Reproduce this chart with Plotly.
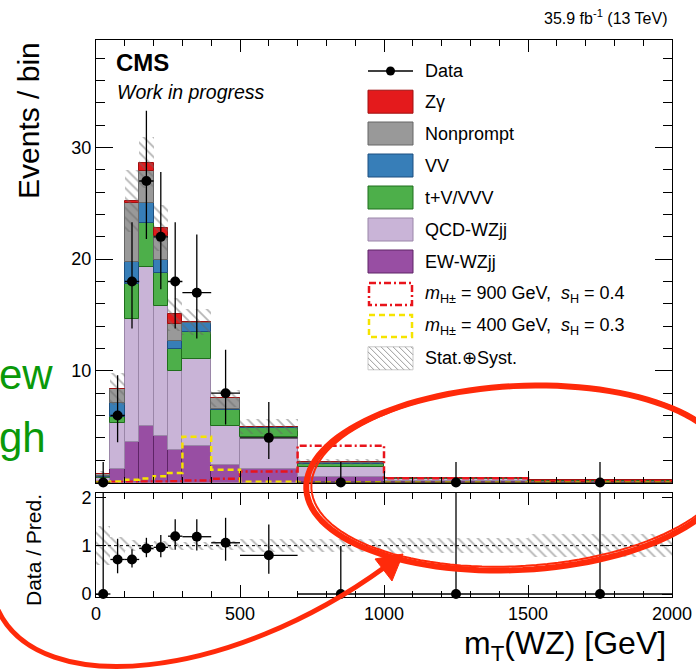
import plotly.graph_objects as go
import numpy as np

# ---------------- data ----------------
bin_edges = [0, 50, 100, 150, 200, 250, 300, 400, 500, 700, 1000, 1500, 2000]
data_counts = [0, 6, 18, 27, 22, 18, 17, 8, 4, 0, 0, 0]
data_err_lo = [0, 2.4, 4.2, 5.2, 4.7, 4.2, 4.1, 2.8, 1.9, 0, 0, 0]
data_err_hi = [1.84, 3.6, 5.3, 6.3, 5.8, 5.3, 5.2, 3.9, 3.2, 1.84, 1.84, 1.84]

ew_wzjj = [0.05, 1.2, 3.65, 5.05, 4.15, 2.9, 3.3, 1.55, 1.2, 0.5, 0.12, 0.06]
qcd_wzjj = [0.35, 4.1, 11.0, 14.25, 11.65, 7.05, 7.75, 3.5, 2.85, 0.9, 0.22, 0.1]
tv_vvv = [0.1, 0.6, 3.15, 3.9, 3.0, 2.0, 2.45, 1.4, 0.82, 0.3, 0.05, 0.02]
vv = [0.1, 1.2, 1.95, 1.8, 1.1, 0.7, 0.75, 0.1, 0.1, 0.05, 0.01, 0.0]
nonprompt = [0.15, 1.25, 5.3, 2.9, 2.2, 1.55, 0.1, 1.0, 0.03, 0.1, 0.0, 0.0]
zgamma = [0.0, 0.05, 0.15, 0.75, 0.7, 0.85, 0.0, 0.0, 0.0, 0.0, 0.0, 0.0]

sig_900 = [0.05, 0.05, 0.06, 0.08, 0.1, 0.12, 0.18, 0.33, 0.98, 3.3, 0.39, 0.12]
sig_400 = [0.03, 0.1, 0.25, 0.35, 0.55, 0.86, 4.1, 1.15, 0.07, 0.02, 0.01, 0.005]

unc_rel = [0.41, 0.17, 0.11, 0.08, 0.09, 0.10, 0.08, 0.10, 0.14, 0.14, 0.16, 0.24]

x_tick_vals = [0, 500, 1000, 1500, 2000]
main_y_ticks = [10, 20, 30]
ratio_y_ticks = [0, 1, 2]

bkg_names = ["EW-WZjj", "QCD-WZjj", "t+V/VVV", "VV", "Nonprompt", "Z\u03b3"]
bkg_values = [ew_wzjj, qcd_wzjj, tv_vvv, vv, nonprompt, zgamma]
bkg_fill = ["#984ea3", "#c9b4d7", "#4daf4a", "#377eb8", "#999999", "#e41a1c"]
bkg_line = ["#5e2466", "#9a86a8", "#1f6e1c", "#1c4f80", "#666666", "#a01010"]

# ---------------- derived ----------------
edges = np.array(bin_edges, float)
centers = 0.5 * (edges[1:] + edges[:-1])
widths = edges[1:] - edges[:-1]
total = np.sum(np.array(bkg_values), axis=0)
unc = np.array(unc_rel)
data = np.array(data_counts, float)
ratio = data / total
r_hi = np.array(data_err_hi) / total
r_lo = np.array(data_err_lo) / total

W, H = 696, 670
ML, MR, MT, MB = 96, 24, 40, 73
PW, PH = W - ML - MR, H - MT - MB


def px(x):
    return (x - ML) / PW


def py(y):
    return (H - MB - y) / PH


FONT = "Liberation Sans, Arial, Helvetica, sans-serif"

fig = go.Figure()

# stacked backgrounds
base = np.zeros(len(centers))
for name, vals, fc, lc in zip(bkg_names, bkg_values, bkg_fill, bkg_line):
    v = np.array(vals)
    fig.add_trace(go.Bar(x=centers, y=v, base=base.copy(), width=widths, name=name,
                         marker=dict(color=fc, line=dict(color=lc, width=1)),
                         xaxis="x", yaxis="y", showlegend=False))
    base = base + v

# uncertainty band (main)
hatch = dict(shape="\\", fgcolor="#686868", bgcolor="rgba(0,0,0,0)", size=7,
             solidity=0.25, fillmode="overlay")
fig.add_trace(go.Bar(x=centers, y=2 * unc * total, base=total * (1 - unc), width=widths,
                     marker=dict(color="rgba(0,0,0,0)", line=dict(width=0), pattern=hatch),
                     xaxis="x", yaxis="y", showlegend=False, name="Stat.+Syst."))

# signals
fig.add_trace(go.Scatter(x=edges, y=list(sig_900) + [sig_900[-1]], mode="lines",
                         line=dict(color="#e8141c", width=2.5, dash="7px,3px,2px,3px", shape="hv"),
                         xaxis="x", yaxis="y", showlegend=False))
fig.add_trace(go.Scatter(x=edges, y=list(sig_400) + [sig_400[-1]], mode="lines",
                         line=dict(color="#f5e400", width=2.5, dash="6px,4px", shape="hv"),
                         xaxis="x", yaxis="y", showlegend=False))

# data (error bars clipped, markers not)
fig.add_trace(go.Scatter(x=centers, y=data, mode="markers", marker=dict(size=1, color="rgba(0,0,0,0)"),
                         error_y=dict(type="data", symmetric=False, array=data_err_hi,
                                      arrayminus=data_err_lo, width=0, thickness=1.3, color="black"),
                         error_x=dict(type="data", array=widths / 2, width=0, thickness=1.3, color="black"),
                         xaxis="x", yaxis="y", showlegend=False))
fig.add_trace(go.Scatter(x=centers, y=data, mode="markers", marker=dict(size=10, color="black"),
                         cliponaxis=False, xaxis="x", yaxis="y", showlegend=False))

# ratio panel
fig.add_trace(go.Bar(x=centers, y=2 * unc, base=1 - unc, width=widths,
                     marker=dict(color="rgba(0,0,0,0)", line=dict(width=0), pattern=hatch),
                     xaxis="x2", yaxis="y2", showlegend=False))
fig.add_trace(go.Scatter(x=centers, y=ratio, mode="markers", marker=dict(size=1, color="rgba(0,0,0,0)"),
                         error_y=dict(type="data", symmetric=False, array=r_hi, arrayminus=r_lo,
                                      width=0, thickness=1.3, color="black"),
                         error_x=dict(type="data", array=widths / 2, width=0, thickness=1.3, color="black"),
                         xaxis="x2", yaxis="y2", showlegend=False))
fig.add_trace(go.Scatter(x=centers, y=ratio, mode="markers", marker=dict(size=10, color="black"),
                         cliponaxis=False, xaxis="x2", yaxis="y2", showlegend=False))

axis_common = dict(showline=True, linecolor="black", linewidth=1, mirror="ticks", ticks="inside",
                   tickcolor="black", showgrid=False, zeroline=False, automargin=False,
                   tickfont=dict(family=FONT, size=18, color="black"))

main_bottom = py(482.5)
ratio_top = py(493)

fig.update_layout(
    width=W, height=H, margin=dict(l=ML, r=MR, t=MT, b=MB, autoexpand=False),
    paper_bgcolor="white", plot_bgcolor="white", barmode="overlay", bargap=0,
    font=dict(family=FONT, color="black"),
    xaxis=dict(domain=[0, 1], anchor="y", range=[0, 2000], tickvals=x_tick_vals, showticklabels=False,
               ticklen=12, minor=dict(dtick=100, tick0=0, ticklen=6, ticks="inside", tickcolor="black"),
               matches="x2", **axis_common),
    yaxis=dict(domain=[main_bottom, 1], anchor="x", range=[0, 39.63], tickvals=main_y_ticks,
               ticklen=17, minor=dict(dtick=2, tick0=0, ticklen=9, ticks="inside", tickcolor="black"),
               **axis_common),
    xaxis2=dict(domain=[0, 1], anchor="y2", range=[0, 2000], tickvals=x_tick_vals,
                ticklen=12, minor=dict(dtick=100, tick0=0, ticklen=6, ticks="inside", tickcolor="black"),
                **axis_common),
    yaxis2=dict(domain=[0, ratio_top], anchor="x2", range=[-0.062, 2.089], tickvals=ratio_y_ticks,
                ticklen=10, **axis_common),
)

shapes = []
annos = []

# dotted line at ratio 1
shapes.append(dict(type="line", xref="x2", yref="y2", x0=0, x1=2000, y0=1, y1=1,
                   line=dict(color="black", width=1, dash="dot"), layer="above"))


def text(x, y, s, size, xanchor="left", yanchor="middle", color="black", angle=0, family=FONT):
    annos.append(dict(x=px(x), y=py(y), xref="paper", yref="paper", text=s, showarrow=False,
                      xanchor=xanchor, yanchor=yanchor, textangle=angle,
                      font=dict(family=family, size=size, color=color)))


# header texts
text(670, 17, "35.9 fb<sup>-1</sup> (13 TeV)", 16, xanchor="right")
text(114, 63, "<b>CMS</b>", 24)
text(115, 92, "<i>Work in progress</i>", 19.5)
text(29, 121, "Events / bin", 30, xanchor="center", angle=-90)
text(33, 550, "Data / Pred.", 21, xanchor="center", angle=-90)
text(668, 645, "m<sub>T</sub>(WZ) [GeV]", 32, xanchor="right")

# legend
bx0, bx1 = 368, 413
rows = [71, 101.7, 133.5, 165.5, 197.5, 229.5, 261.5, 294, 326, 358.3]
labels = ["Data", "Z\u03b3", "Nonprompt", "VV", "t+V/VVV", "QCD-WZjj", "EW-WZjj",
          "<i>m</i><sub>H\u00b1</sub> = 900 GeV,  <i>s</i><sub>H</sub> = 0.4",
          "<i>m</i><sub>H\u00b1</sub> = 400 GeV,  <i>s</i><sub>H</sub> = 0.3",
          "Stat.\u2295Syst."]
for r, lab in zip(rows, labels):
    text(423, r, lab, 18)

# data legend symbol
shapes.append(dict(type="line", xref="paper", yref="paper", x0=px(bx0), x1=px(bx1), y0=py(rows[0]), y1=py(rows[0]),
                   line=dict(color="black", width=1.3)))
shapes.append(dict(type="circle", xref="paper", yref="paper", x0=px(390.5 - 4.5), x1=px(390.5 + 4.5),
                   y0=py(rows[0] - 4.5), y1=py(rows[0] + 4.5), fillcolor="black", line=dict(width=0)))
leg_order = [5, 4, 3, 2, 1, 0]
for r, k in zip(rows[1:7], leg_order):
    shapes.append(dict(type="rect", xref="paper", yref="paper", x0=px(bx0), x1=px(bx1),
                       y0=py(r - 11.5), y1=py(r + 11.5), fillcolor=bkg_fill[k],
                       line=dict(color=bkg_line[k], width=1)))
shapes.append(dict(type="rect", xref="paper", yref="paper", x0=px(bx0 + 1), x1=px(bx1 - 1),
                   y0=py(rows[7] - 11), y1=py(rows[7] + 11),
                   line=dict(color="#e8141c", width=2.5, dash="7px,3px,2px,3px")))
shapes.append(dict(type="rect", xref="paper", yref="paper", x0=px(bx0 + 1), x1=px(bx1 - 1),
                   y0=py(rows[8] - 11), y1=py(rows[8] + 11),
                   line=dict(color="#f5e400", width=2.5, dash="6px,4px")))
# hatched legend box
t0, t1 = rows[9] - 11.5, rows[9] + 11.5
shapes.append(dict(type="rect", xref="paper", yref="paper", x0=px(bx0), x1=px(bx1), y0=py(t0), y1=py(t1),
                   line=dict(color="#c8c8c8", width=1)))
segs = []
hgt = t1 - t0
for a in np.arange(bx0 - hgt, bx1, 6.0):
    xa, ya = a, t0
    xb, yb = a + hgt, t1
    if xa < bx0:
        ya = t0 + (bx0 - xa); xa = bx0
    if xb > bx1:
        yb = t1 - (xb - bx1); xb = bx1
    if xb > xa:
        segs.append(f"M{px(xa):.5f},{py(ya):.5f} L{px(xb):.5f},{py(yb):.5f}")
shapes.append(dict(type="path", xref="paper", yref="paper", path=" ".join(segs),
                   line=dict(color="#9a9a9a", width=1)))

# ---------------- slide annotations (green text, red ellipse and arrow) ----------------
GREEN = "#0a990a"
text(55, 374, "ew", 42, xanchor="right", color=GREEN)
text(48, 437, "gh", 42, xanchor="right", color=GREEN)

RED = "#ff2a0a"


def ellipse_path(cx, cy, rx, ry, ang_deg, n=120):
    a = np.deg2rad(ang_deg)
    pts = []
    for t in np.linspace(0, 2 * np.pi, n + 1):
        ex, ey = rx * np.cos(t), ry * np.sin(t)
        X = cx + ex * np.cos(a) + ey * np.sin(a)
        Y = cy - ex * np.sin(a) + ey * np.cos(a)
        pts.append(f"{px(X):.5f},{py(Y):.5f}")
    return "M" + " L".join(pts)


shapes.append(dict(type="path", xref="paper", yref="paper", path=ellipse_path(518, 478, 212, 92, 3),
                   line=dict(color=RED, width=6), layer="above"))
shapes.append(dict(type="path", xref="paper", yref="paper", path=ellipse_path(520, 476, 209, 90, 3.5),
                   line=dict(color=RED, width=2), layer="above"))

curve = (f"M{px(-2):.5f},{py(610):.5f} C{px(40):.5f},{py(700):.5f} {px(230):.5f},{py(680):.5f} "
         f"{px(385):.5f},{py(567):.5f}")
shapes.append(dict(type="path", xref="paper", yref="paper", path=curve,
                   line=dict(color=RED, width=5), layer="above"))
head = (f"M{px(403):.5f},{py(554):.5f} L{px(375):.5f},{py(559):.5f} L{px(392):.5f},{py(581):.5f} Z")
shapes.append(dict(type="path", xref="paper", yref="paper", path=head, fillcolor=RED,
                   line=dict(color=RED, width=1), layer="above"))

fig.update_layout(shapes=shapes, annotations=annos)
fig.write_html("out.html", config={"displayModeBar": False, "responsive": False},
               post_script="document.body.style.margin='0px';")
